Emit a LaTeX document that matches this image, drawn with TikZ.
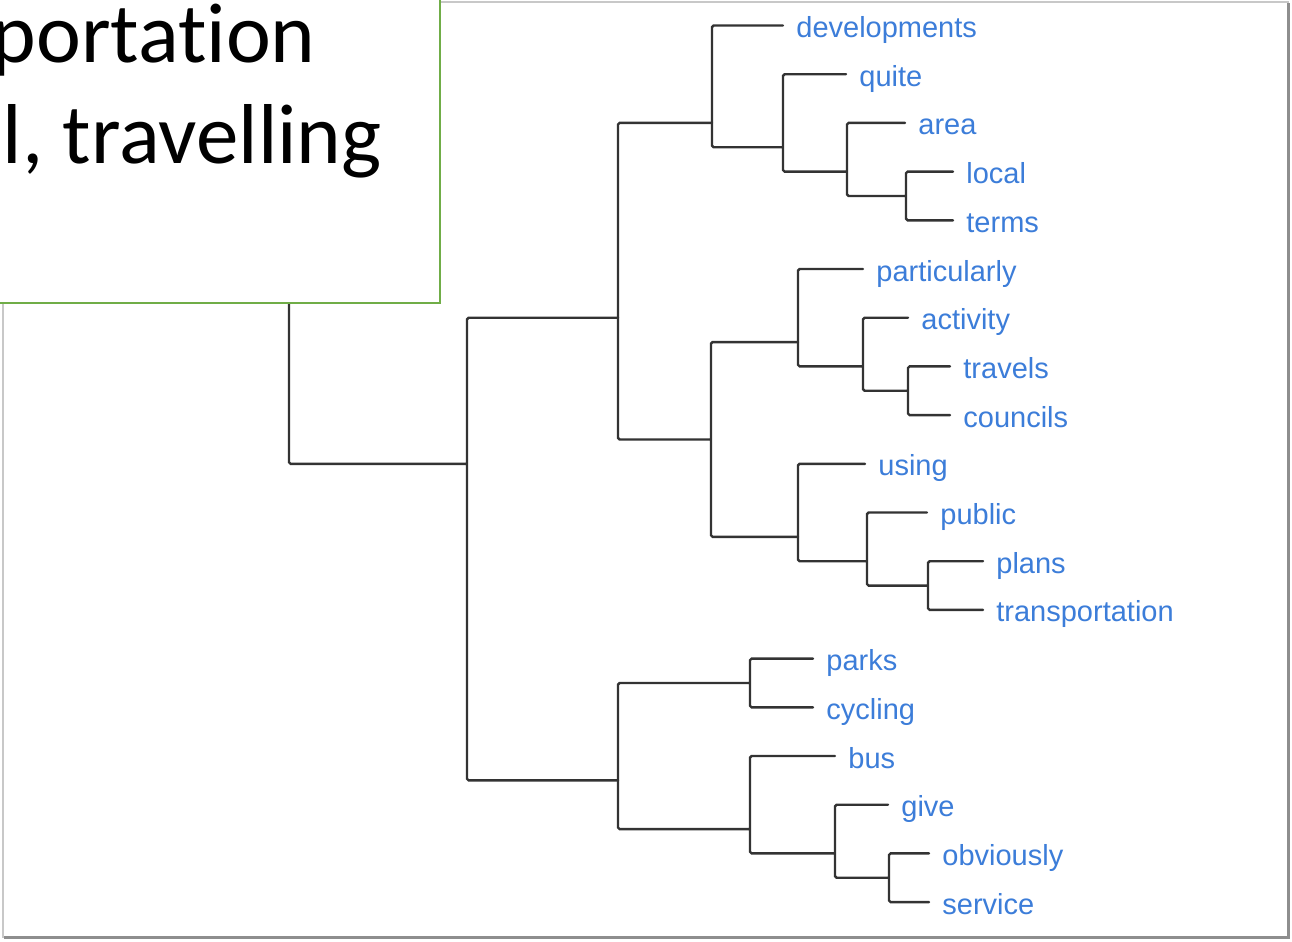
\documentclass[tikz,border=0pt]{standalone}
\usepackage{fontspec}
\newfontfamily\lblfont{Liberation Sans}
\newfontfamily\notefont[Ligatures=NoCommon]{Carlito}
\usetikzlibrary{positioning}
\definecolor{lblc}{HTML}{3C7DD9}
\definecolor{branchc}{HTML}{333333}
\definecolor{notec}{HTML}{70AD47}
\definecolor{framec}{HTML}{C8C8C8}
\definecolor{shadec}{HTML}{8E8E8E}
\tikzset{
  br/.style={draw=branchc,line width=1.2pt,line cap=round,rounded corners=0.8pt},
  lbl/.style={font=\lblfont\fontsize{14.5}{17}\selectfont,text=lblc,anchor=base west,inner sep=0pt},
  big/.style={font=\notefont\fontsize{42.5}{51}\selectfont,text=black,anchor=base east,inner sep=0pt},
  notebox/.style={draw=notec,fill=white,line width=1pt,inner sep=0pt,anchor=south east},
  frame/.style={draw=framec,line width=1pt},
  shade/.style={draw=shadec,line width=1.2pt},
}
\newcommand{\rowy}[1]{25.5+48.7*#1}
\newcommand{\leaf}[4]{\coordinate (#1) at (#2,{\rowy{#3}});\node[lbl] (#1l) at ([shift={(13,12)}]#1) {#4};}
\newcommand{\knot}[3]{\coordinate (#1) at (#2,{\rowy{#3}});}

\begin{document}
\begin{tikzpicture}[x=0.5pt,y=-0.5pt]
  \useasboundingbox (0,0) rectangle (1292,942);
  \fill[white] (0,0) rectangle (1292,942);
  \clip (0,0) rectangle (1292,942);
  \draw[frame] (3,1.5) rectangle (1288,936.5);
  \draw[shade] (1288.5,3) -- (1288.5,937.5) -- (4,937.5);
  % leaves
  \leaf{developments}{783}{0}{developments}
  \leaf{quite}{846}{1}{quite}
  \leaf{area}{905}{2}{area}
  \leaf{local}{953}{3}{local}
  \leaf{terms}{953}{4}{terms}
  \leaf{particularly}{863}{5}{particularly}
  \leaf{activity}{908}{6}{activity}
  \leaf{travels}{950}{7}{travels}
  \leaf{councils}{950}{8}{councils}
  \leaf{using}{865}{9}{using}
  \leaf{public}{927}{10}{public}
  \leaf{plans}{983}{11}{plans}
  \leaf{transportation}{983}{12}{transportation}
  \leaf{parks}{813}{13}{parks}
  \leaf{cycling}{813}{14}{cycling}
  \leaf{bus}{835}{15}{bus}
  \leaf{give}{888}{16}{give}
  \leaf{obviously}{929}{17}{obviously}
  \leaf{service}{929}{18}{service}
  % merges
  \knot{T}{712}{2}\knot{Q}{783}{2.5}\knot{R}{847}{3}\knot{S}{906}{3.5}
  \knot{P}{798}{6.5}\knot{A1}{863}{7}\knot{A2}{908}{7.5}
  \knot{U}{798}{10.5}\knot{U1}{867}{11}\knot{U2}{928}{11.5}
  \knot{M}{711}{8.5}\knot{X}{618}{6}
  \knot{K}{750}{13.5}\knot{B}{750}{16.5}\knot{G}{835}{17}\knot{O}{889}{17.5}
  \knot{L}{618}{15.5}\knot{root}{467}{9}
  \coordinate (stem) at (289,200);
  \draw[br] (T) |- (developments) (T) |- (Q) (Q) |- (quite) (Q) |- (R)
            (R) |- (area) (R) |- (S) (S) |- (local) (S) |- (terms);
  \draw[br] (P) |- (particularly) (P) |- (A1) (A1) |- (activity) (A1) |- (A2)
            (A2) |- (travels) (A2) |- (councils);
  \draw[br] (U) |- (using) (U) |- (U1) (U1) |- (public) (U1) |- (U2)
            (U2) |- (plans) (U2) |- (transportation);
  \draw[br] (M) |- (P) (M) |- (U) (X) |- (T) (X) |- (M);
  \draw[br] (K) |- (parks) (K) |- (cycling) (B) |- (bus) (B) |- (G)
            (G) |- (give) (G) |- (O) (O) |- (obviously) (O) |- (service)
            (L) |- (K) (L) |- (B);
  \draw[br] (root) |- (X) (root) |- (L) (root) -| (stem);
  % overlapping text box
  \node[notebox,minimum width=260pt,minimum height=170pt] (note) at (441,304) {};
  \node[big] (line1) at (316,62) {portation};
  \node[big] (line2) at (382,163) {l, travelling};
\end{tikzpicture}
\end{document}
